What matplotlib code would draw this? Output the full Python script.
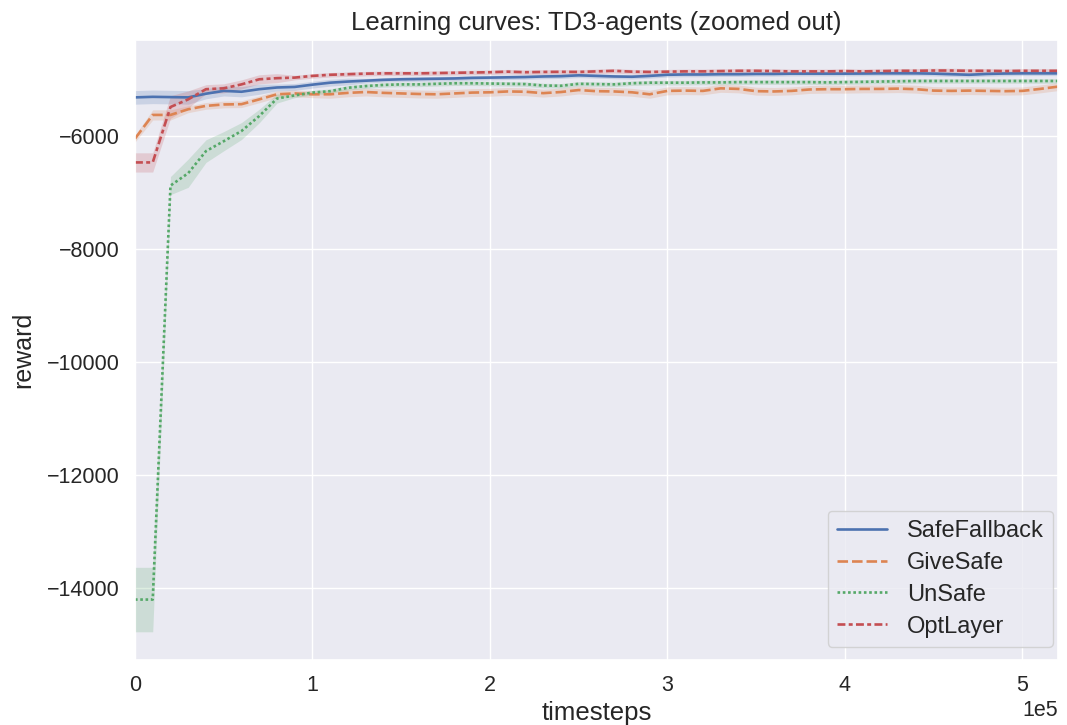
import numpy as np
import matplotlib
matplotlib.use("Agg")
import matplotlib.pyplot as plt
import seaborn as sns

timesteps = np.arange(0, 530000, 10000)

safefallback = [-5320, -5310, -5315, -5320, -5255, -5205, -5220, -5175, -5145, -5135,
                -5095, -5060, -5040, -5025, -5010, -5000, -4995, -4990, -4985, -4975,
                -4970, -4965, -4960, -4950, -4945, -4930, -4940, -4950, -4955, -4940,
                -4920, -4915, -4915, -4910, -4910, -4905, -4905, -4900, -4900, -4900,
                -4900, -4898, -4895, -4895, -4895, -4900, -4910, -4920, -4905, -4898,
                -4895, -4895, -4895]
givesafe = [-6050, -5630, -5630, -5530, -5470, -5445, -5440, -5355, -5265, -5250,
            -5265, -5265, -5240, -5225, -5240, -5250, -5260, -5265, -5250, -5235,
            -5230, -5215, -5220, -5245, -5225, -5190, -5210, -5215, -5230, -5265,
            -5205, -5200, -5205, -5160, -5170, -5210, -5215, -5205, -5180, -5175,
            -5175, -5170, -5170, -5165, -5175, -5200, -5205, -5200, -5205, -5210,
            -5205, -5170, -5130]
unsafe = [-14200, -14200, -6880, -6660, -6270, -6095, -5915, -5650, -5340, -5285,
          -5235, -5210, -5150, -5120, -5100, -5090, -5090, -5080, -5070, -5070,
          -5075, -5080, -5085, -5110, -5115, -5080, -5085, -5090, -5070, -5060,
          -5060, -5060, -5055, -5055, -5050, -5050, -5050, -5050, -5050, -5055,
          -5050, -5045, -5040, -5035, -5030, -5030, -5030, -5030, -5030, -5030,
          -5030, -5030, -5030]
optlayer = [-6470, -6470, -5490, -5355, -5175, -5160, -5090, -5000, -4980, -4970,
            -4940, -4920, -4910, -4900, -4895, -4895, -4895, -4890, -4885, -4880,
            -4875, -4865, -4875, -4870, -4868, -4870, -4860, -4850, -4865, -4870,
            -4865, -4860, -4860, -4855, -4850, -4850, -4855, -4860, -4860, -4860,
            -4855, -4860, -4855, -4850, -4850, -4845, -4845, -4850, -4850, -4855,
            -4850, -4850, -4850]

# band half-widths (spread across seeds)
safefallback_spread = [120]*4 + [90]*4 + [60]*5 + [40]*40
givesafe_spread = [60, 90, 90] + [60]*8 + [70]*42
unsafe_spread = [570, 570, 160, 250, 200, 170, 150, 120, 80] + [40]*44
optlayer_spread = [170, 170, 200, 150] + [80]*5 + [40]*44

labels = ["SafeFallback", "GiveSafe", "UnSafe", "OptLayer"]

sns.set_theme(style="darkgrid")
plt.rcParams['font.family'] = ['Liberation Sans', 'DejaVu Sans']

fig = plt.figure(figsize=(10.67, 7.25), dpi=100)
ax = fig.add_axes([0.1265, 0.0897, 0.865, 0.855])

pal = sns.color_palette("deep")
dashes = [(None, None), (4, 1.5), (1, 1), (3, 1.25, 1.5, 1.25)]
series = [safefallback, givesafe, unsafe, optlayer]
spreads = [safefallback_spread, givesafe_spread, unsafe_spread, optlayer_spread]

for i, (lab, y, s) in enumerate(zip(labels, series, spreads)):
    y = np.array(y, dtype=float)
    s = np.array(s, dtype=float)
    ax.fill_between(timesteps, y - s, y + s, color=pal[i], alpha=0.2, linewidth=0)
    if i == 0:
        ax.plot(timesteps, y, color=pal[i], lw=1.9, label=lab)
    else:
        ax.plot(timesteps, y, color=pal[i], lw=1.9, dashes=dashes[i], label=lab)

ax.set_xlim(0, 520000)
ax.ticklabel_format(axis='x', style='sci', scilimits=(0, 0))
ax.xaxis.get_offset_text().set_fontsize(15.5)
ax.set_yticks([-14000, -12000, -10000, -8000, -6000])
ax.tick_params(labelsize=15.5, pad=5)
ax.set_xlabel("timesteps", fontsize=18.5, labelpad=3.6)
ax.set_ylabel("reward", fontsize=18, labelpad=8)
ax.set_title("Learning curves: TD3-agents (zoomed out)", fontsize=18.5, pad=7)
ax.legend(loc="lower right", bbox_to_anchor=(0.9946, 0.021), borderaxespad=0,
          fontsize=17, handlelength=2.1, labelspacing=0.415, handletextpad=0.85,
          borderpad=0.4)

fig.savefig("out.png", dpi=100)
